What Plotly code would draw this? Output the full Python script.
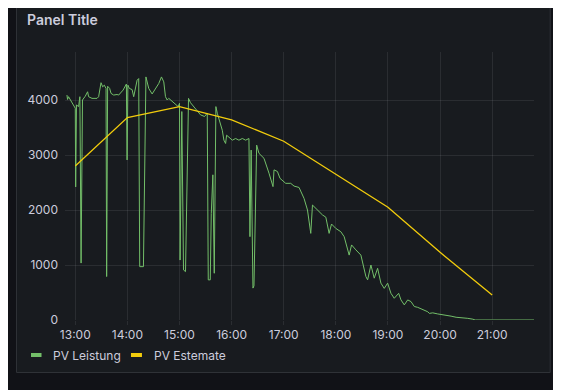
import pandas as pd
import plotly.graph_objects as go

DAY = "2023-06-01 "

# PV Leistung (measured power, W)
leistung_times = [
    "12:50:25", "12:51:07", "12:52:16", "12:54:14", "12:56:11", "12:58:02", "13:00:00", "13:00:28",
    "13:01:23", "13:03:48", "13:05:18", "13:06:41", "13:08:18", "13:11:32", "13:14:11", "13:15:21",
    "13:19:16", "13:25:02", "13:26:53", "13:29:39", "13:31:30", "13:33:28", "13:35:25", "13:36:07",
    "13:37:16", "13:39:35", "13:41:12", "13:44:12", "13:48:07", "13:49:58", "13:51:55", "13:55:02",
    "13:58:51", "13:59:39", "14:00:35", "14:02:18", "14:05:25", "14:07:16", "14:11:12", "14:13:02",
    "14:14:12", "14:18:28", "14:21:21", "14:24:35", "14:28:30", "14:32:18", "14:36:07", "14:39:14",
    "14:41:53", "14:43:51", "14:45:49", "14:47:39", "14:51:35", "14:55:23", "14:58:30", "15:00:00",
    "15:00:41", "15:02:39", "15:04:37", "15:06:55", "15:10:23", "15:12:41", "15:18:28", "15:24:14",
    "15:28:51", "15:31:58", "15:33:07", "15:35:25", "15:36:35", "15:38:25", "15:40:02", "15:41:53",
    "15:43:30", "15:46:30", "15:49:16", "15:51:07", "15:53:05", "15:54:14", "15:58:02", "16:00:49",
    "16:04:37", "16:08:25", "16:12:21", "16:16:09", "16:19:58", "16:21:07", "16:22:30", "16:24:35",
    "16:25:44", "16:28:51", "16:31:30", "16:37:16", "16:43:02", "16:47:39", "16:48:49", "16:52:44",
    "16:55:44", "17:02:18", "17:08:05", "17:11:53", "17:17:39", "17:23:25", "17:27:21", "17:31:09",
    "17:33:07", "17:38:53", "17:44:39", "17:48:28", "17:52:16", "17:55:02", "18:00:00", "18:05:46",
    "18:09:35", "18:15:21", "18:18:07", "18:23:05", "18:28:51", "18:34:37", "18:36:35", "18:40:23",
    "18:44:12", "18:48:07", "18:51:55", "18:55:44", "18:59:39", "19:03:28", "19:07:16", "19:12:21",
    "19:15:00", "19:18:49", "19:22:44", "19:26:32", "19:30:21", "19:34:16", "19:38:05", "19:41:53",
    "19:45:49", "19:47:39", "19:51:35", "19:57:21", "20:03:07", "20:06:55", "20:12:41", "20:18:28",
    "20:26:11", "20:31:58", "20:37:44", "20:40:23", "21:00:00", "21:30:00", "21:48:10",
]
leistung_values = [
    4090, 4010, 4060, 4010, 3950, 3890, 3850, 2420,
    3910, 3880, 4060, 1035, 4000, 4070, 4150, 4060,
    4030, 4030, 4060, 4315, 4240, 4270, 4210, 790,
    4250, 4210, 4120, 4090, 4100, 4090, 4120, 4180,
    4290, 2910, 4270, 4210, 4190, 4060, 4360, 4390,
    970, 970, 4420, 4210, 4110, 4210, 4300, 4420,
    4330, 4060, 4000, 4030, 3970, 3910, 3880, 3940,
    1090, 3790, 910, 880, 4030, 3950, 3850, 3730,
    3700, 3760, 730, 730, 1940, 2640, 850, 3880,
    3760, 3575, 3450, 3270, 3210, 3360, 3300, 3270,
    3300, 3270, 3300, 3270, 3300, 1515, 3090, 580,
    620, 3180, 3030, 2940, 2670, 2425, 2730, 2700,
    2575, 2485, 2485, 2435, 2410, 2210, 2000, 1575,
    2090, 2000, 1910, 1870, 1575, 1745, 1665, 1605,
    1515, 1180, 1365, 1275, 1180, 790, 730, 1000,
    760, 940, 670, 575, 670, 485, 395, 485,
    365, 275, 365, 335, 245, 230, 205, 175,
    150, 120, 130, 110, 100, 90, 70, 50,
    45, 30, 15, 0, 0, 0, 0,
]

# PV Estemate (forecast, W)
estimate_times = ["13:00", "14:00", "15:00", "16:00", "17:00", "18:00", "19:00", "20:00", "21:00"]
estimate_values = [2800, 3680, 3880, 3640, 3250, 2650, 2050, 1230, 455]

y_ticks = [0, 1000, 2000, 3000, 4000]
x_range = ["12:48:10", "21:48:10"]
y_max = 4873

GREEN = "#73BF69"
YELLOW = "#F2CC0C"
TEXT = "#ccccdc"
GRID = "rgba(204,204,220,0.10)"
PAGE_BG = "#111217"
PANEL_BG = "#181b1f"
BORDER = "#2f3237"
FONT = "Inter"

fig = go.Figure()
fig.add_trace(go.Scatter(
    x=pd.to_datetime([DAY + t for t in leistung_times]), y=leistung_values,
    mode="lines", name="PV Leistung", line=dict(color=GREEN, width=1),
))
fig.add_trace(go.Scatter(
    x=pd.to_datetime([DAY + t for t in estimate_times]), y=estimate_values,
    mode="lines", name="PV Estemate", line=dict(color=YELLOW, width=1.3),
))

# the page places the figure 8px from the top-left corner of the window
OFF = 8
W, H = 561 - OFF, 390 - OFF
# plot area in window pixels: left 65, right 534.3, top 52, bottom 320
L, R, T, B = 65 - OFF, 534.3 - OFF, 52 - OFF, 320 - OFF

def px(x):  # window x pixel -> paper
    return (x - OFF - L) / (R - L)

def py(y):  # window y pixel -> paper
    return (B - (y - OFF)) / (B - T)

shapes = [
    # left neighbouring panel
    dict(type="rect", xref="paper", yref="paper", x0=px(-10), x1=px(7.5), y0=py(183), y1=py(-10),
         fillcolor=PANEL_BG, line=dict(color=BORDER, width=1), layer="below"),
    # main panel
    dict(type="rect", xref="paper", yref="paper", x0=px(16.5), x1=px(550.5), y0=py(372.5), y1=py(2.5),
         fillcolor=PANEL_BG, line=dict(color=BORDER, width=1), layer="below"),
    # legend symbols
    dict(type="line", xref="paper", yref="paper", x0=px(31), x1=px(41.5), y0=py(355), y1=py(355),
         line=dict(color=GREEN, width=4)),
    dict(type="line", xref="paper", yref="paper", x0=px(131), x1=px(142), y0=py(355), y1=py(355),
         line=dict(color=YELLOW, width=4)),
]

annotations = [
    dict(text="Panel Title", xref="paper", yref="paper", x=px(25), y=py(19), xanchor="left", yanchor="middle",
         showarrow=False, font=dict(family=FONT, size=14, color=TEXT, weight=600)),
    dict(text="PV Leistung", xref="paper", yref="paper", x=px(50.5), y=py(355), xanchor="left", yanchor="middle",
         showarrow=False, font=dict(family=FONT, size=12, color=TEXT)),
    dict(text="PV Estemate", xref="paper", yref="paper", x=px(152), y=py(355), xanchor="left", yanchor="middle",
         showarrow=False, font=dict(family=FONT, size=12, color=TEXT)),
]

fig.update_layout(
    width=W, height=H,
    margin=dict(l=L, r=W - R, t=T, b=H - B, pad=0),
    paper_bgcolor=PAGE_BG, plot_bgcolor="rgba(0,0,0,0)",
    showlegend=False,
    shapes=shapes, annotations=annotations,
    font=dict(family=FONT, size=12, color=TEXT),
    xaxis=dict(
        type="date", range=[DAY + x_range[0], DAY + x_range[1]],
        tickformat="%H:%M", dtick=3600000, tick0=DAY + "13:00",
        showgrid=True, gridcolor=GRID, gridwidth=1, zeroline=False, showline=False,
        ticks="outside", ticklen=4, tickcolor=GRID,
        tickfont=dict(family=FONT, size=12, color=TEXT),
    ),
    yaxis=dict(
        range=[0, y_max], tickvals=y_ticks, ticktext=[str(v) for v in y_ticks],
        showgrid=True, gridcolor=GRID, gridwidth=1, zeroline=False, showline=False,
        ticks="", ticklabelstandoff=6,
        tickfont=dict(family=FONT, size=12, color=TEXT),
    ),
)

fig.write_html("out.html")
